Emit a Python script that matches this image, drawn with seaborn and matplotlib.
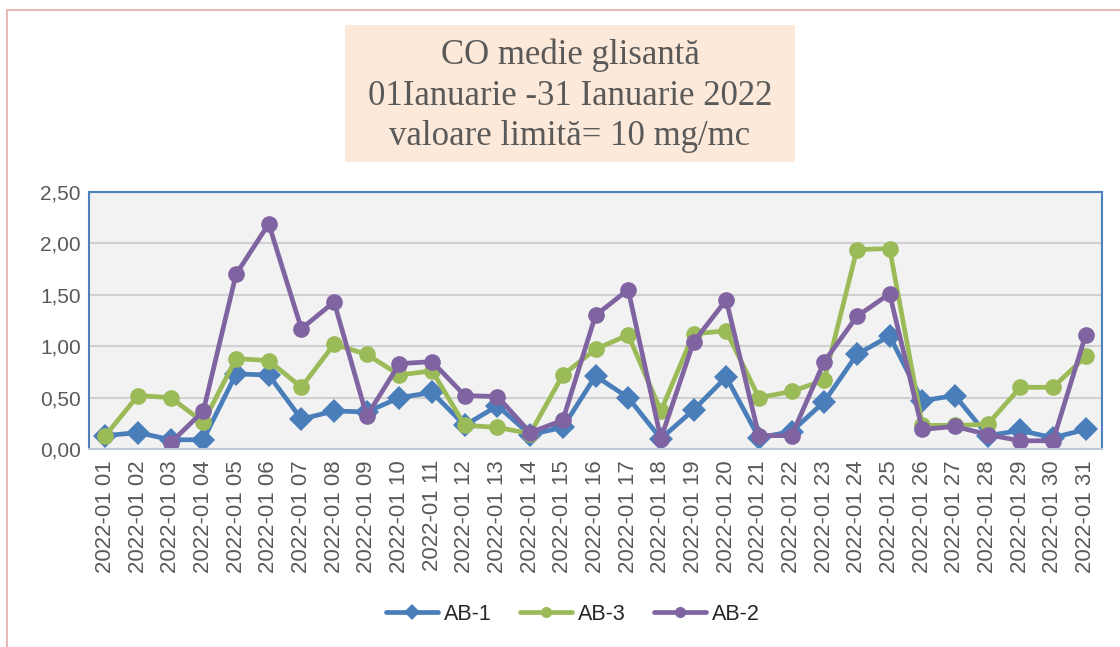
import numpy as np
import pandas as pd
import seaborn as sns
import matplotlib.pyplot as plt
from matplotlib.lines import Line2D
from matplotlib.patches import Rectangle
from matplotlib.ticker import FuncFormatter

days = ["2022-01 %02d" % d for d in range(1, 32)]

ab1 = [0.13, 0.16, 0.09, 0.09, 0.73, 0.72, 0.29, 0.37, 0.36, 0.50, 0.55,
       0.23, 0.42, 0.14, 0.21, 0.71, 0.50, 0.10, 0.38, 0.70, 0.11, 0.17,
       0.46, 0.92, 1.10, 0.47, 0.52, 0.13, 0.18, 0.11, 0.19]
ab3 = [0.13, 0.52, 0.50, 0.26, 0.88, 0.86, 0.60, 1.02, 0.92, 0.72, 0.76,
       0.23, 0.21, 0.15, 0.72, 0.97, 1.11, 0.37, 1.12, 1.15, 0.50, 0.56,
       0.67, 1.94, 1.95, 0.23, 0.23, 0.24, 0.60, 0.60, 0.90]
ab2 = [np.nan, np.nan, 0.06, 0.37, 1.70, 2.19, 1.17, 1.43, 0.32, 0.83, 0.85,
       0.52, 0.51, 0.16, 0.28, 1.30, 1.55, 0.10, 1.04, 1.45, 0.13, 0.13,
       0.85, 1.29, 1.51, 0.19, 0.22, 0.14, 0.08, 0.08, 1.11]

series = ["AB-1", "AB-3", "AB-2"]
colors = {"AB-1": "#4A7EBB", "AB-3": "#9BBB59", "AB-2": "#8064A2"}
markers = {"AB-1": "D", "AB-3": "o", "AB-2": "o"}

df = pd.DataFrame({"day": list(range(31)) * 3,
                   "value": ab1 + ab3 + ab2,
                   "station": ["AB-1"] * 31 + ["AB-3"] * 31 + ["AB-2"] * 31})

sns.set_style("white")
plt.rcParams["font.family"] = ["Liberation Sans", "DejaVu Sans"]

fig = plt.figure(figsize=(11.2, 6.47), dpi=100)
ax = fig.add_axes([89 / 1120, 1 - 449 / 647, (1102 - 89) / 1120, (449 - 192) / 647])
ax.set_facecolor("#F2F2F2")

sns.lineplot(data=df, x="day", y="value", hue="station", style="station",
             hue_order=series, style_order=series, palette=colors,
             markers=markers, dashes=False, linewidth=3.4, markersize=12,
             markeredgewidth=0, legend=False, ax=ax)

ax.set_xlim(-0.5, 30.5)
ax.set_ylim(0, 2.5)
ax.set_yticks(np.arange(0, 2.51, 0.5))
ax.yaxis.set_major_formatter(FuncFormatter(lambda v, p: ("%.2f" % v).replace(".", ",")))
ax.set_xticks(range(31))
ax.set_xticklabels(days, rotation=90)
ax.tick_params(axis="both", labelsize=15, colors="#595959", length=0)
ax.tick_params(axis="x", pad=8, labelsize=16)
ax.tick_params(axis="y", pad=6)
ax.set_xlabel("")
ax.set_ylabel("")
ax.grid(axis="y", color="#D0D0D0", linewidth=1.5)
ax.set_axisbelow(True)
for name, sp in ax.spines.items():
    sp.set_color("#4F81BD")
    sp.set_linewidth(1.5)
ax.spines["bottom"].set_color("#BCC8D8")

# title box
fig.patches.append(Rectangle((345 / 1120, 1 - 162 / 647), 450 / 1120, 137 / 647,
                             transform=fig.transFigure, facecolor="#FDE9D9",
                             edgecolor="none", zorder=0))
fig.text(570 / 1120, 1 - 96 / 647,
         "CO medie glisantă\n01Ianuarie -31 Ianuarie 2022\nvaloare limită= 10 mg/mc",
         ha="center", va="center", fontsize=25, color="#595959",
         family="Liberation Serif", linespacing=1.3)

# outer border lines
fig.add_artist(Line2D([7 / 1120, 7 / 1120], [0, 1 - 10 / 647], transform=fig.transFigure,
                      color="#E6B9B8", linewidth=1.5))
fig.add_artist(Line2D([7 / 1120, 1], [1 - 10 / 647, 1 - 10 / 647], transform=fig.transFigure,
                      color="#E6B9B8", linewidth=1.5))

handles = [Line2D([], [], color=colors[s], marker=markers[s], linewidth=3.4,
                  markersize=8, markeredgewidth=0) for s in series]
fig.legend(handles, series, loc="center", bbox_to_anchor=(573 / 1120, 1 - 614 / 647),
           ncol=3, frameon=False, fontsize=15.5, handlelength=2.4, columnspacing=1.3,
           handletextpad=0.3)

fig.savefig("out.png", dpi=100)
